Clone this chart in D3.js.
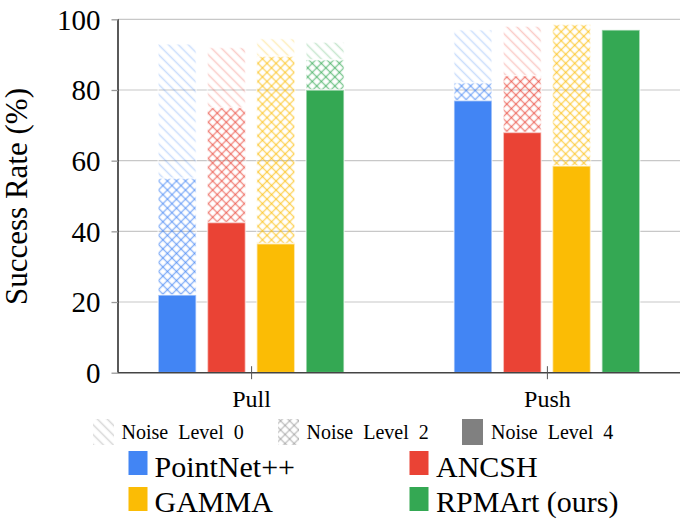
<!DOCTYPE html>
<html>
<head>
<meta charset="utf-8">
<script src="https://cdn.jsdelivr.net/npm/d3@7"></script>
</head>
<body style="margin:0">
<svg id="chart" width="687" height="521" font-family="Liberation Serif"></svg>
<script>
// ---- data ----
const categories = ["Pull", "Push"];
const methods = ["PointNet++", "ANCSH", "GAMMA", "RPMArt (ours)"];
const methodColors = ["#4285F4", "#EA4335", "#FBBC05", "#34A853"];
const noiseLabels = ["Noise Level 0", "Noise Level 2", "Noise Level 4"];
// values per category (rows) and method (columns)
const noise0 = [[93, 92, 94.5, 93.5], [97, 98, 98.5, 97]];
const noise2 = [[55, 75, 89.5, 88.5], [82, 84, 98.5, 97]];
const noise4 = [[22, 42.5, 36.5, 80], [77, 68, 58.5, 97]];
const yTicks = [0, 20, 40, 60, 80, 100];

const FONT = "'Liberation Serif', 'Times New Roman', serif";
const setFont = sel => sel.attr("font-family", FONT).style("font-family", FONT, "important");

// ---- layout ----
const svg = d3.select("#chart");
const plotLeft = 118, plotRight = 680, plotTop = 19.3, plotBottom = 372.7;

const x0 = d3.scalePoint().domain(categories).range([plotLeft, plotRight]).padding(0.45);
const x1 = d3.scaleBand().domain(methods).range([-98.6, 98.6]).paddingInner(0.229).paddingOuter(0.1145);
const y = d3.scaleLinear().domain([0, 100]).range([plotBottom, plotTop]);

// ---- patterns ----
const defs = svg.append("defs");
function hatch(id, color, opacity) {
  const p = defs.append("pattern").attr("id", id).attr("patternUnits", "userSpaceOnUse")
    .attr("width", 7).attr("height", 7).attr("patternTransform", "rotate(-45)");
  p.append("line").attr("x1", 3.5).attr("y1", -1).attr("x2", 3.5).attr("y2", 8)
    .attr("stroke", color).attr("stroke-opacity", opacity).attr("stroke-width", 1.5);
}
function cross(id, color, opacity) {
  const p = defs.append("pattern").attr("id", id).attr("patternUnits", "userSpaceOnUse")
    .attr("width", 6.4).attr("height", 6.4).attr("patternTransform", "rotate(45)");
  p.append("line").attr("x1", 3.2).attr("y1", -1).attr("x2", 3.2).attr("y2", 7.4)
    .attr("stroke", color).attr("stroke-opacity", opacity).attr("stroke-width", 1.4);
  p.append("line").attr("x1", -1).attr("y1", 3.2).attr("x2", 7.4).attr("y2", 3.2)
    .attr("stroke", color).attr("stroke-opacity", opacity).attr("stroke-width", 1.4);
}
methodColors.forEach((c, i) => { hatch("h0-" + i, c, 0.28); cross("h2-" + i, c, 0.6); });
hatch("h0-g", "#888", 0.35);
cross("h2-g", "#888", 0.5);

// ---- grid ----
svg.append("g").selectAll("line").data(yTicks.filter(d => d > 0)).join("line")
  .attr("x1", plotLeft).attr("x2", plotRight).attr("y1", d => y(d)).attr("y2", d => y(d))
  .attr("stroke", "#c8c8c8").attr("stroke-width", 1.2);

// ---- bars ----
const bars = [];
categories.forEach((cat, ci) => {
  methods.forEach((m, mi) => {
    bars.push({ cat, m, mi, v0: noise0[ci][mi], v2: noise2[ci][mi], v4: noise4[ci][mi] });
  });
});
const bx = d => x0(d.cat) + x1(d.m);
const bw = x1.bandwidth();
const gBars = svg.append("g");
function seg(lo, hi, fill) {
  gBars.selectAll(null).data(bars.filter(d => hi(d) > lo(d))).join("rect")
    .attr("x", bx).attr("width", bw)
    .attr("y", d => y(hi(d))).attr("height", d => y(lo(d)) - y(hi(d)))
    .attr("fill", d => fill(d))
    .attr("stroke", "#fff").attr("stroke-opacity", 0.55).attr("stroke-width", 1.6);
}
seg(d => d.v2, d => d.v0, d => "url(#h0-" + d.mi + ")");
seg(d => d.v4, d => d.v2, d => "url(#h2-" + d.mi + ")");
seg(d => 0, d => d.v4, d => methodColors[d.mi]);

// ---- axes ----
const yAxis = svg.append("g").attr("transform", `translate(${plotLeft},0)`)
  .call(d3.axisLeft(y).tickValues(yTicks).tickSize(6.5).tickPadding(11).tickFormat(d3.format("d")));
setFont(yAxis);
yAxis.select(".domain").attr("stroke", "#000").attr("stroke-width", 1.3).attr("d", `M0,${plotBottom}V${plotTop}`);
yAxis.selectAll(".tick line").attr("stroke", "#999").attr("stroke-width", 1.3);
yAxis.selectAll(".tick text").call(setFont).attr("font-size", 29).attr("fill", "#000").attr("dy", "0.34em");

const xAxis = svg.append("g").attr("transform", `translate(0,${plotBottom})`)
  .call(d3.axisBottom(x0).tickSize(0).tickPadding(0));
setFont(xAxis);
xAxis.select(".domain").attr("stroke", "#444").attr("stroke-width", 1.4).attr("d", `M${plotLeft},0H${plotRight}`);
xAxis.selectAll(".tick line").attr("y1", -6.5).attr("y2", 6.5).attr("stroke", "#555").attr("stroke-width", 1);
xAxis.selectAll(".tick text").call(setFont).attr("font-size", 24).attr("fill", "#000").attr("dy", null).attr("y", 34);

// y label
svg.append("text").attr("transform", "translate(27,196.5) rotate(-90)")
  .attr("text-anchor", "middle").call(setFont).attr("font-size", 31).attr("fill", "#000")
  .text("Success Rate (%)");

// ---- legend: noise levels ----
const noiseSw = [
  { x: 93, fill: "url(#h0-g)", tx: 121.5 },
  { x: 278, fill: "url(#h2-g)", tx: 306.5 },
  { x: 462, fill: "#808080", tx: 491 }
];
const gl = svg.append("g");
gl.selectAll("rect").data(noiseSw).join("rect")
  .attr("x", d => d.x).attr("y", 419).attr("width", 21).attr("height", 26)
  .attr("fill", d => d.fill);
gl.selectAll("text").data(noiseSw).join("text")
  .attr("x", d => d.tx).attr("y", 438.7).call(setFont).attr("font-size", 20).attr("word-spacing", 5)
  .attr("fill", "#000").text((d, i) => noiseLabels[i]);

// ---- legend: methods ----
const mPos = [
  { sx: 128.5, sy: 451, tx: 154.5, ty: 476.7 },
  { sx: 409.5, sy: 451, tx: 436, ty: 476.7 },
  { sx: 128.5, sy: 487, tx: 154.5, ty: 511.7 },
  { sx: 409.5, sy: 487, tx: 436, ty: 511.7 }
];
const gm = svg.append("g");
gm.selectAll("rect").data(methods).join("rect")
  .attr("x", (d, i) => mPos[i].sx).attr("y", (d, i) => mPos[i].sy)
  .attr("width", 19).attr("height", 24).attr("fill", (d, i) => methodColors[i]);
gm.selectAll("text").data(methods).join("text")
  .attr("x", (d, i) => mPos[i].tx).attr("y", (d, i) => mPos[i].ty)
  .call(setFont).attr("font-size", 30).attr("fill", "#000").text(d => d);
</script>
</body>
</html>
